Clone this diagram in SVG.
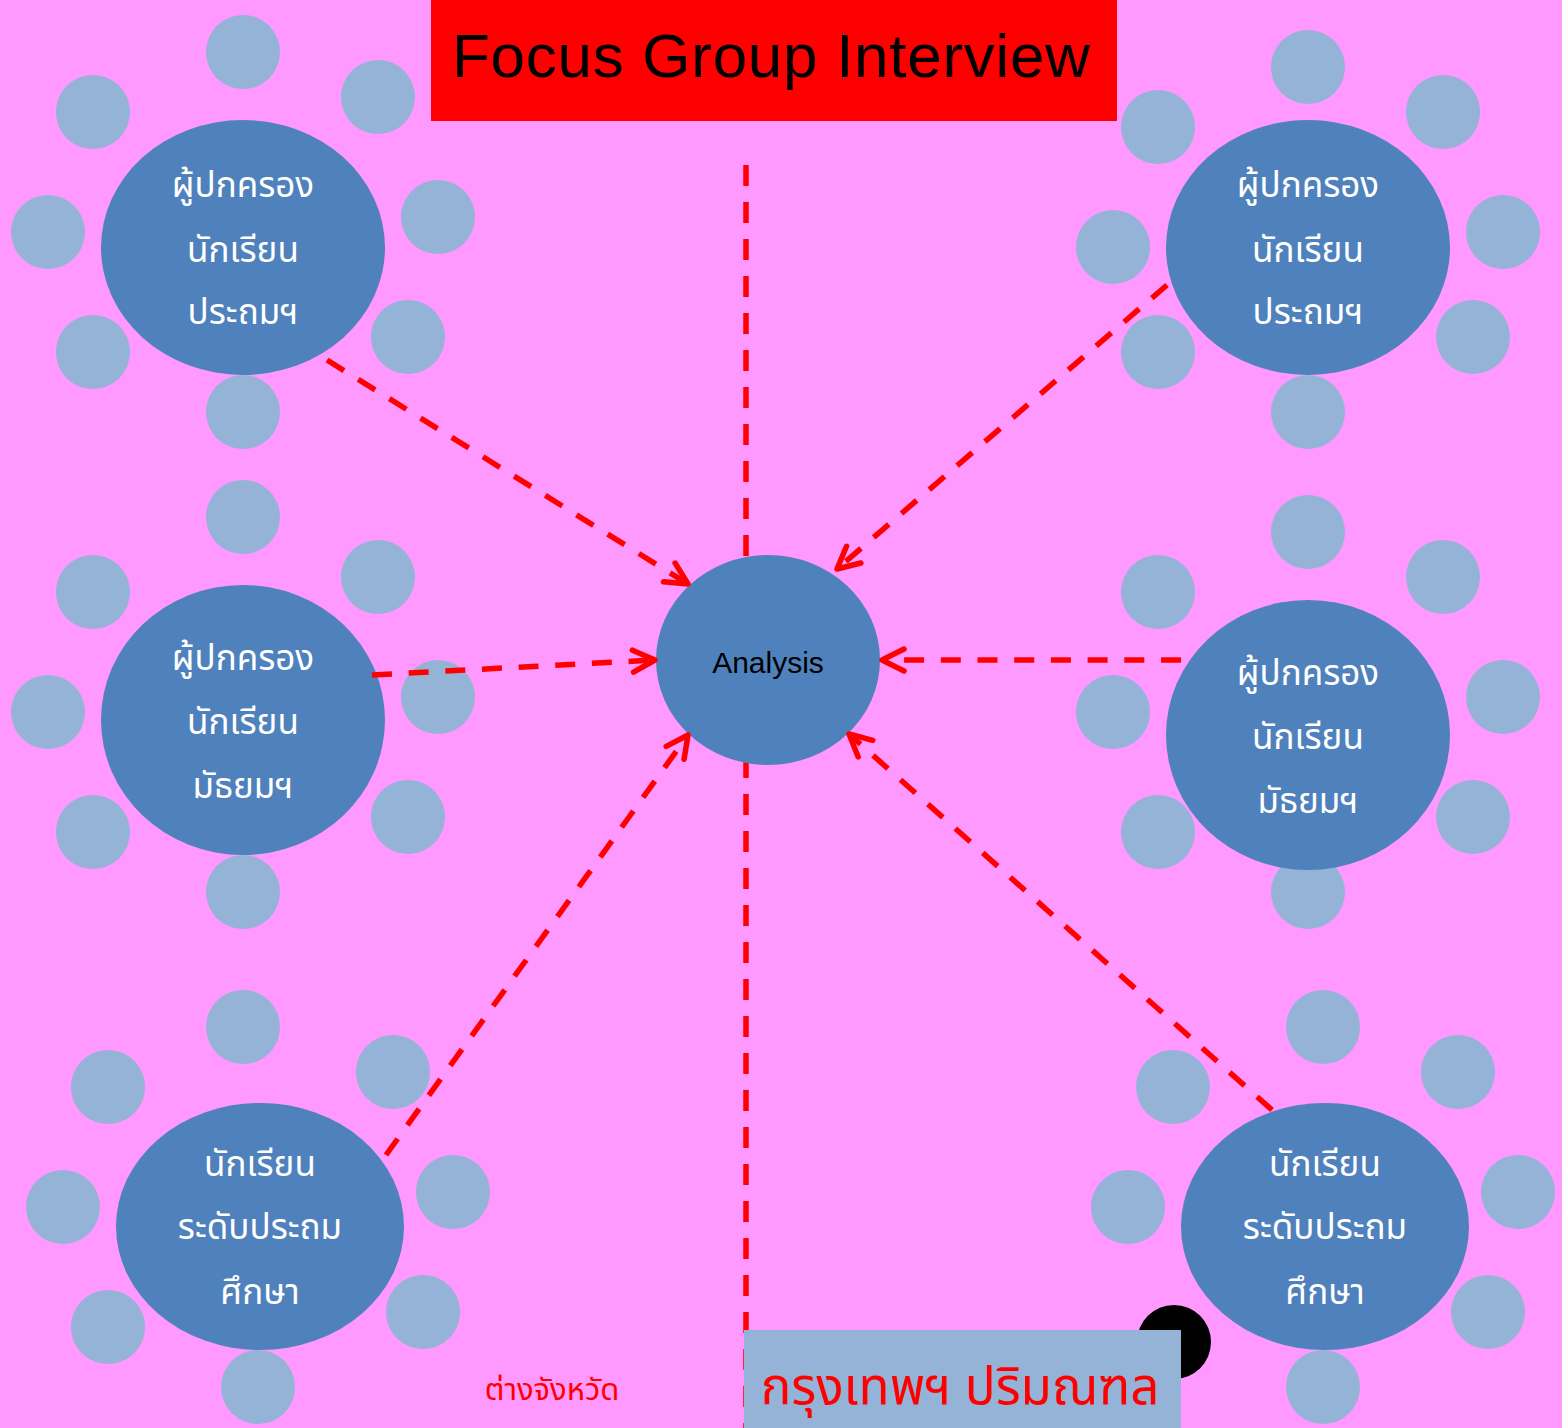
<svg xmlns="http://www.w3.org/2000/svg" width="1562" height="1428" viewBox="0 0 1562 1428">
<style>
.bg{fill:#FF99FF}
.seat{fill:#95B3D7}
.big{fill:#4F81BD}
.th{font-family:"Noto Sans Thai","Noto Sans Thai Looped","Noto Sans","DejaVu Sans",sans-serif;fill:#FFFFFF;font-size:35px;text-anchor:middle}
.conn{stroke:#FF0000;stroke-width:5.5;stroke-dasharray:20 16.7;fill:none}
.lat{font-family:"Liberation Sans",Arial,sans-serif;fill:#000000}
.red{font-family:"Noto Sans Thai","Noto Sans Thai Looped","Noto Sans","DejaVu Sans",sans-serif;fill:#FF0000}
</style>
<defs>
<marker id="ah" markerUnits="userSpaceOnUse" markerWidth="40" markerHeight="40" viewBox="-30 -20 40 40" refX="0" refY="0" orient="auto">
<path d="M-22,-11 L0,0 L-22,11" fill="none" stroke="#FF0000" stroke-width="5.5" stroke-linecap="round" stroke-linejoin="round"/>
</marker>
</defs>
<rect class="bg" x="0" y="0" width="1562" height="1428"/>

<g id="title">
<rect x="431" y="0" width="686" height="121" fill="#FF0000"/>
<text class="lat" x="452" y="77" font-size="62" textLength="638" lengthAdjust="spacing">Focus Group Interview</text>
</g>

<g id="axis">
<line x1="746" y1="165" x2="746" y2="1428" stroke="#FF0000" stroke-width="5.5" stroke-dasharray="21 16"/>
</g>

<g id="group-tl">
<circle class="seat" cx="243" cy="52" r="37"/>
<circle class="seat" cx="93" cy="112" r="37"/>
<circle class="seat" cx="378" cy="97" r="37"/>
<circle class="seat" cx="48" cy="232" r="37"/>
<circle class="seat" cx="438" cy="217" r="37"/>
<circle class="seat" cx="93" cy="352" r="37"/>
<circle class="seat" cx="408" cy="337" r="37"/>
<circle class="seat" cx="243" cy="412" r="37"/>
<ellipse class="big" cx="243" cy="247.5" rx="142" ry="127.5"/>
<text class="th" x="243" y="197">ผู้ปกครอง</text>
<text class="th" x="243" y="262">นักเรียน</text>
<text class="th" x="243" y="324">ประถมฯ</text>
</g>

<g id="group-tr">
<circle class="seat" cx="1308" cy="67" r="37"/>
<circle class="seat" cx="1158" cy="127" r="37"/>
<circle class="seat" cx="1443" cy="112" r="37"/>
<circle class="seat" cx="1113" cy="247" r="37"/>
<circle class="seat" cx="1503" cy="232" r="37"/>
<circle class="seat" cx="1158" cy="352" r="37"/>
<circle class="seat" cx="1473" cy="337" r="37"/>
<circle class="seat" cx="1308" cy="412" r="37"/>
<ellipse class="big" cx="1308" cy="247.5" rx="142" ry="127.5"/>
<text class="th" x="1308" y="197">ผู้ปกครอง</text>
<text class="th" x="1308" y="262">นักเรียน</text>
<text class="th" x="1308" y="324">ประถมฯ</text>
</g>

<g id="group-ml">
<circle class="seat" cx="243" cy="517" r="37"/>
<circle class="seat" cx="93" cy="592" r="37"/>
<circle class="seat" cx="378" cy="577" r="37"/>
<circle class="seat" cx="48" cy="712" r="37"/>
<circle class="seat" cx="438" cy="697" r="37"/>
<circle class="seat" cx="93" cy="832" r="37"/>
<circle class="seat" cx="408" cy="817" r="37"/>
<circle class="seat" cx="243" cy="892" r="37"/>
<ellipse class="big" cx="243" cy="720" rx="142" ry="135"/>
<text class="th" x="243" y="670">ผู้ปกครอง</text>
<text class="th" x="243" y="734">นักเรียน</text>
<text class="th" x="243" y="798">มัธยมฯ</text>
</g>

<g id="group-mr">
<circle class="seat" cx="1308" cy="532" r="37"/>
<circle class="seat" cx="1158" cy="592" r="37"/>
<circle class="seat" cx="1443" cy="577" r="37"/>
<circle class="seat" cx="1113" cy="712" r="37"/>
<circle class="seat" cx="1503" cy="697" r="37"/>
<circle class="seat" cx="1158" cy="832" r="37"/>
<circle class="seat" cx="1473" cy="817" r="37"/>
<circle class="seat" cx="1308" cy="892" r="37"/>
<ellipse class="big" cx="1308" cy="735" rx="142" ry="135"/>
<text class="th" x="1308" y="685">ผู้ปกครอง</text>
<text class="th" x="1308" y="749">นักเรียน</text>
<text class="th" x="1308" y="813">มัธยมฯ</text>
</g>

<g id="group-bl">
<circle class="seat" cx="243" cy="1027" r="37"/>
<circle class="seat" cx="108" cy="1087" r="37"/>
<circle class="seat" cx="393" cy="1072" r="37"/>
<circle class="seat" cx="63" cy="1207" r="37"/>
<circle class="seat" cx="453" cy="1192" r="37"/>
<circle class="seat" cx="108" cy="1327" r="37"/>
<circle class="seat" cx="423" cy="1312" r="37"/>
<circle class="seat" cx="258" cy="1387" r="37"/>
<ellipse class="big" cx="260" cy="1226.5" rx="144" ry="123.5"/>
<text class="th" x="260" y="1176">นักเรียน</text>
<text class="th" x="260" y="1239">ระดับประถม</text>
<text class="th" x="260" y="1304">ศึกษา</text>
</g>

<g id="group-br">
<circle class="seat" cx="1323" cy="1027" r="37"/>
<circle class="seat" cx="1173" cy="1087" r="37"/>
<circle class="seat" cx="1458" cy="1072" r="37"/>
<circle class="seat" cx="1128" cy="1207" r="37"/>
<circle class="seat" cx="1518" cy="1192" r="37"/>
<circle cx="1174" cy="1342" r="37" fill="#000000"/>
<circle class="seat" cx="1488" cy="1312" r="37"/>
<circle class="seat" cx="1323" cy="1387" r="37"/>
<ellipse class="big" cx="1325" cy="1226.5" rx="144" ry="123.5"/>
<text class="th" x="1325" y="1176">นักเรียน</text>
<text class="th" x="1325" y="1239">ระดับประถม</text>
<text class="th" x="1325" y="1304">ศึกษา</text>
</g>

<g id="analysis">
<ellipse class="big" cx="768" cy="660" rx="112" ry="105"/>
<text class="lat" x="768" y="673" font-size="30" text-anchor="middle">Analysis</text>
</g>

<g id="connectors">
<line class="conn" x1="327" y1="360" x2="688" y2="584" marker-end="url(#ah)"/>
<line class="conn" x1="1167" y1="285" x2="837" y2="569" marker-end="url(#ah)"/>
<line class="conn" x1="372" y1="675" x2="655" y2="660" marker-end="url(#ah)"/>
<line class="conn" x1="1181" y1="660" x2="882" y2="660" marker-end="url(#ah)"/>
<line class="conn" x1="386" y1="1155" x2="688" y2="735" marker-end="url(#ah)"/>
<line class="conn" x1="1272" y1="1110" x2="849" y2="734" marker-end="url(#ah)"/>
</g>

<g id="label-province">
<text class="red" x="552" y="1400" font-size="31" text-anchor="middle">ต่างจังหวัด</text>
</g>

<g id="label-bangkok">
<rect x="744" y="1330" width="437" height="98" fill="#95B3D7"/>
<text class="red" x="960" y="1404" font-size="51" text-anchor="middle">กรุงเทพฯ ปริมณฑล</text>
</g>
</svg>
